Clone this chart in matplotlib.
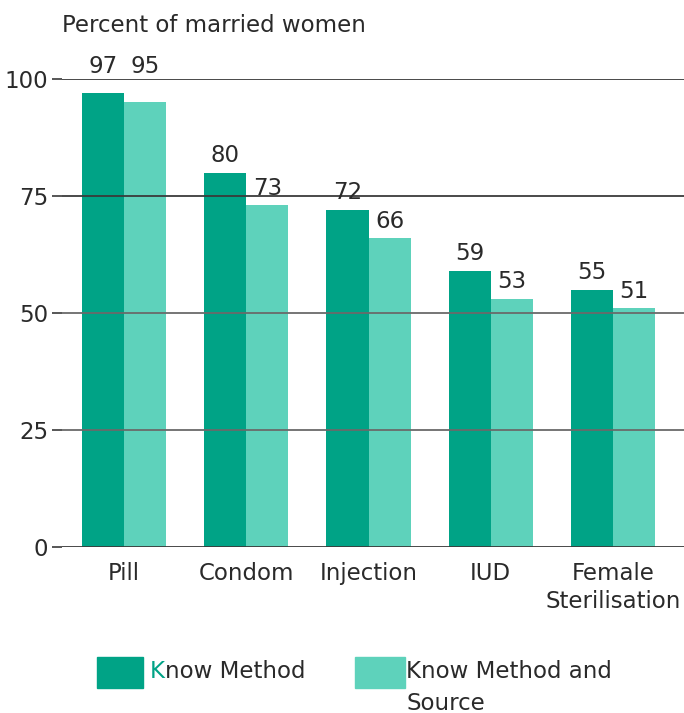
import matplotlib
matplotlib.use("Agg")
import matplotlib.pyplot as plt
from matplotlib.patches import Rectangle
import numpy as np

categories = ["Pill", "Condom", "Injection", "IUD", "Female\nSterilisation"]
know_method = [97, 80, 72, 59, 55]
know_source = [95, 73, 66, 53, 51]
yticks = [0, 25, 50, 75, 100]
series_names = ["Know Method", "Know Method and\nSource"]

dark = "#00a386"
light = "#5ed2bb"
fam = ["DejaVu Sans"]
plt.rcParams["font.family"] = fam
FS = 16.5
TC = "#2a2a2a"

W, H = 684, 713
fig = plt.figure(figsize=(W / 100, H / 100), dpi=100)
ax = fig.add_axes([62 / W, 1 - 547 / H, (684 - 62) / W, (547 - 79) / H])

x = np.arange(len(categories))
w = 0.344
ax.bar(x - w / 2, know_method, w, color=dark, zorder=2)
ax.bar(x + w / 2, know_source, w, color=light, zorder=2)

for t in yticks:
    col = "#3a3a3a" if t in (0, 75, 100) else "#6a6a6a"
    ax.axhline(t, color=col, lw=1.3, zorder=3)

ax.set_xlim(-0.507, 4.58)
ax.set_ylim(0, 100)
ax.set_yticks(yticks)
ax.set_yticklabels([str(t) for t in yticks], fontsize=FS, color=TC)
ax.tick_params(axis="y", length=7, width=1.2, color="#3a3a3a", pad=3)
ax.set_xticks(x)
ax.set_xticklabels(categories, fontsize=FS, color=TC, linespacing=1.25)
ax.tick_params(axis="x", length=0, pad=11)
for s in ax.spines.values():
    s.set_visible(False)

def label(xpos, v):
    if v > 90:
        ax.text(xpos, 100.2, str(v), ha="center", va="bottom", fontsize=FS,
                color=TC, clip_on=False)
    else:
        ax.annotate(str(v), (xpos, v), xytext=(0, 4), textcoords="offset points",
                    ha="center", va="bottom", fontsize=FS, color=TC,
                    annotation_clip=False)

for i in range(len(categories)):
    label(x[i] - w / 2, know_method[i])
    label(x[i] + w / 2, know_source[i])

fig.text(62 / W, 1 - 25 / H, "Percent of married women", ha="left", va="center",
         fontsize=FS, color=TC)

# legend
fig.patches.append(Rectangle((97 / W, 1 - 688 / H), 46 / W, 31 / H,
                             transform=fig.transFigure, color=dark))
fig.patches.append(Rectangle((355 / W, 1 - 688 / H), 50 / W, 31 / H,
                             transform=fig.transFigure, color=light))
name0 = series_names[0]
tk = fig.text(150 / W, 1 - 672 / H, name0[0], ha="left", va="center",
              fontsize=FS, color=dark)
fig.canvas.draw()
bb = tk.get_window_extent()
fig.text(bb.x1 / W, 1 - 672 / H, name0[1:], ha="left", va="center",
         fontsize=FS, color=TC)
l1, l2 = series_names[1].split("\n")
fig.text(406 / W, 1 - 672 / H, l1, ha="left", va="center", fontsize=FS, color=TC)
fig.text(406 / W, 1 - 703 / H, l2, ha="left", va="center", fontsize=FS, color=TC)

fig.savefig("out.png", dpi=100, facecolor="white")
